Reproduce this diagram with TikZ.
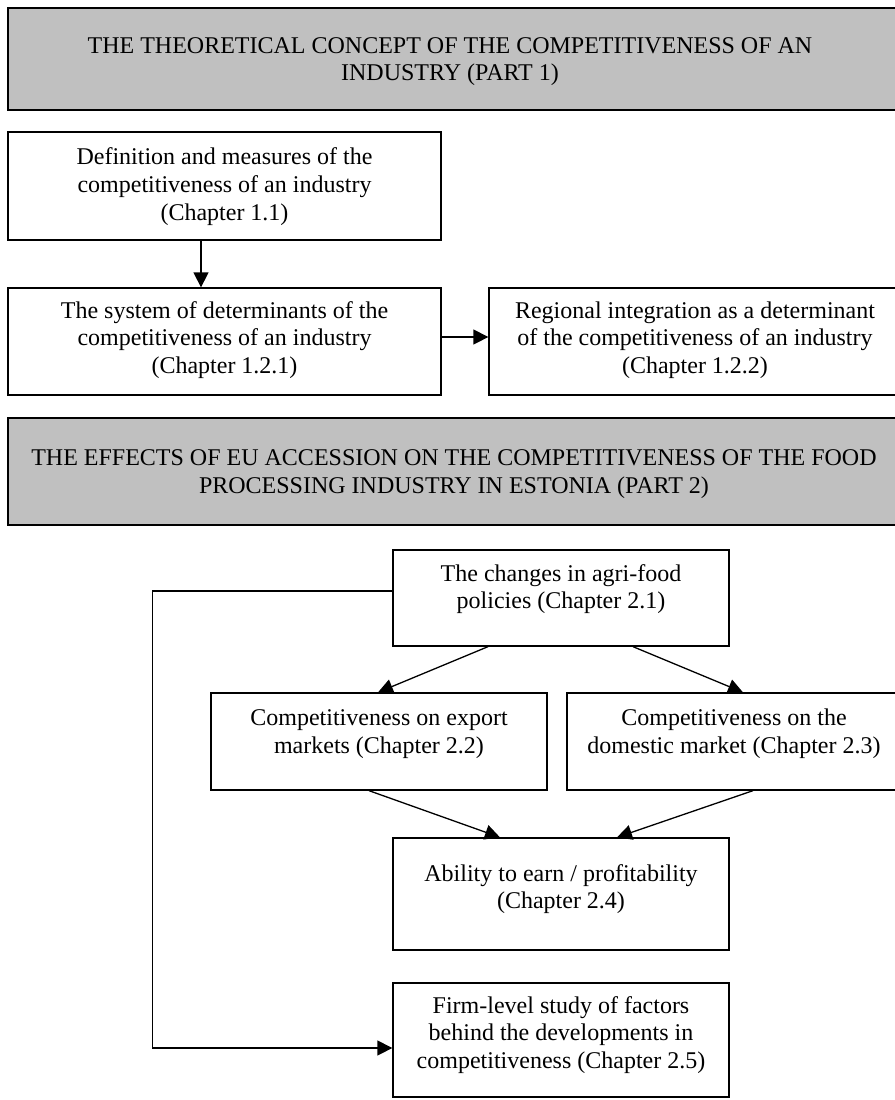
\documentclass[tikz,border=0pt]{standalone}
\usepackage{fontspec}
\setmainfont{Liberation Serif}
\usetikzlibrary{arrows.meta}
\definecolor{bannergray}{HTML}{C0C0C0}
\tikzset{
  x=0.5pt, y=-0.5pt,
  frame/.style={draw, line width=0.65pt, inner sep=0pt, rectangle},
  banner/.style={draw, line width=1pt, fill=bannergray, inner sep=0pt, rectangle},
  txt/.style={align=center, inner sep=0pt, font=\fontsize{12}{13.8}\selectfont},
  arr/.style={line width=0.65pt, -{Triangle[length=7.5pt,width=7.5pt]}},
}
\begin{document}
\begin{tikzpicture}
\useasboundingbox (0,0) rectangle (895,1100);
% Part 1
\node[banner, minimum width=444pt, minimum height=51pt] (P1) at (452,59) {};
\node[txt] (P1t) at (450,61.5) {THE THEORETICAL CONCEPT OF THE COMPETITIVENESS OF AN\\INDUSTRY (PART 1)};
\node[frame, minimum width=216.5pt, minimum height=54pt] (A) at (224.5,186) {};
\node[txt] (At) at (224.5,186.5) {Definition and measures of the\\competitiveness of an industry\\(Chapter 1.1)};
\node[frame, minimum width=216.5pt, minimum height=53.5pt] (B) at (224.5,341.5) {};
\node[txt] (Bt) at (224.5,340) {The system of determinants of the\\competitiveness of an industry\\(Chapter 1.2.1)};
\node[frame, minimum width=203.5pt, minimum height=53.5pt] (C) at (692.5,341.5) {};
\node[txt] (Ct) at (695,340) {Regional integration as a determinant\\of the competitiveness of an industry\\(Chapter 1.2.2)};
% Part 2
\node[banner, minimum width=444pt, minimum height=53.5pt] (P2) at (452,471.5) {};
\node[txt] (P2t) at (454,474) {THE EFFECTS OF EU ACCESSION ON THE COMPETITIVENESS OF THE FOOD\\PROCESSING INDUSTRY IN ESTONIA (PART 2)};
\node[frame, minimum width=168pt, minimum height=48pt] (D) at (561,598) {};
\node[txt] (Dt) at (561,589) {The changes in agri-food\\policies (Chapter 2.1)};
\node[frame, minimum width=168pt, minimum height=48.5pt] (E) at (379,741.5) {};
\node[txt] (Et) at (379,734) {Competitiveness on export\\markets (Chapter 2.2)};
\node[frame, minimum width=164.5pt, minimum height=48.5pt] (F) at (731.5,741.5) {};
\node[txt] (Ft) at (734,734) {Competitiveness on the\\domestic market (Chapter 2.3)};
\node[frame, minimum width=168pt, minimum height=56pt] (G) at (561,894) {};
\node[txt] (Gt) at (561,889) {Ability to earn / profitability\\(Chapter 2.4)};
\node[frame, minimum width=168pt, minimum height=57pt] (H) at (561,1040) {};
\node[txt] (Ht) at (561,1035) {Firm-level study of factors\\behind the developments in\\competitiveness (Chapter 2.5)};
% connectors
\draw[arr] ([xshift=-11.75pt]A.south) -- ([xshift=-11.75pt]B.north);
\draw[arr] ([yshift=2.25pt]B.east) -- ([yshift=2.25pt]C.west);
\draw[arr] ([xshift=-36.5pt]D.south) -- ([xshift=-0.5pt]E.north);
\draw[arr] ([xshift=36pt]D.south) -- ([xshift=5.75pt]F.north);
\draw[arr] ([xshift=-5pt]E.south) -- ([xshift=-30.5pt]G.north);
\draw[arr] ([xshift=10.75pt]F.south) -- ([xshift=28pt]G.north);
\draw[arr] ([yshift=3.5pt]D.west) -- ++(-120pt,0) |- ([yshift=-4pt]H.west);
\end{tikzpicture}
\end{document}
